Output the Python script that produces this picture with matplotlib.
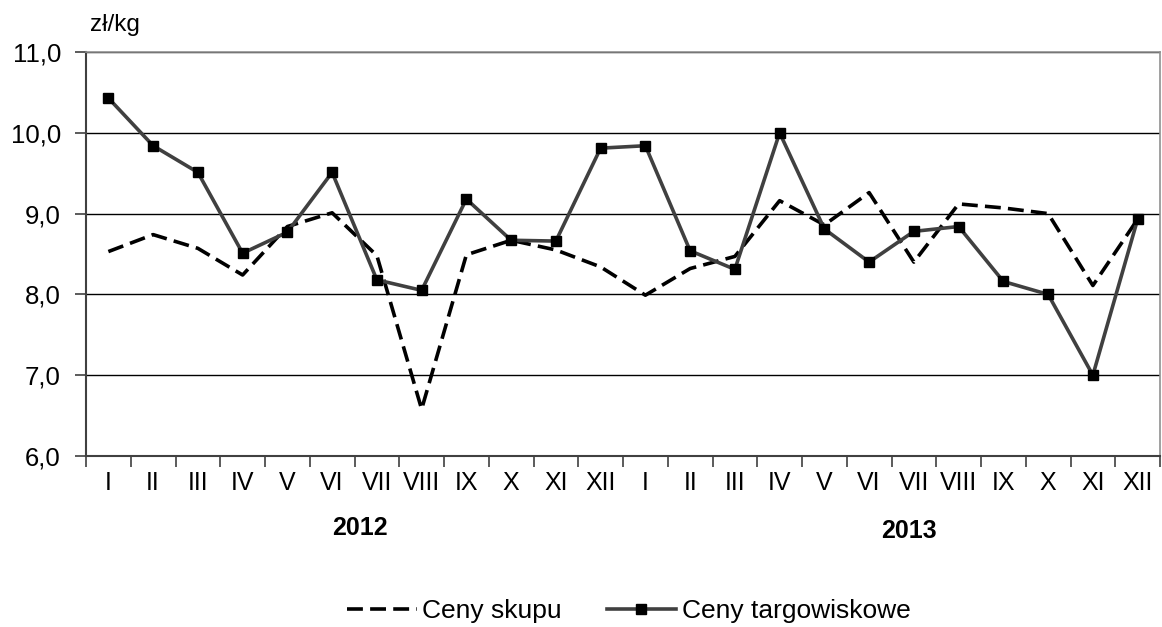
import matplotlib.pyplot as plt
import numpy as np

plt.rcParams['font.family'] = ['Liberation Sans', 'DejaVu Sans']

# miesiace (dwa lata)
months = ['I', 'II', 'III', 'IV', 'V', 'VI', 'VII', 'VIII', 'IX', 'X', 'XI', 'XII'] * 2
years = ['2012', '2013']

# ceny w zl/kg
ceny_skupu = [8.53, 8.74, 8.57, 8.24, 8.84, 9.01, 8.48, 6.58, 8.49, 8.67, 8.55, 8.34,
              7.99, 8.32, 8.47, 9.16, 8.86, 9.26, 8.40, 9.12, 9.07, 9.00, 8.11, 8.93]
ceny_targ = [10.43, 9.84, 9.51, 8.51, 8.77, 9.51, 8.18, 8.05, 9.18, 8.67, 8.66, 9.81,
             9.84, 8.54, 8.31, 10.00, 8.81, 8.40, 8.78, 8.84, 8.16, 8.00, 7.00, 8.93]

yticks = [6.0, 7.0, 8.0, 9.0, 10.0, 11.0]

fig = plt.figure(figsize=(11.62, 6.27), dpi=100)
ax = fig.add_axes([86 / 1162, 1 - 456 / 627, 1074 / 1162, 404 / 627])

x = np.arange(len(months))
ax.plot(x, ceny_skupu, color='black', lw=2.6, dashes=(4.4, 2.0),
        label='Ceny skupu', zorder=3)
ax.plot(x, ceny_targ, color='#404040', lw=2.6, marker='s', markersize=6.8,
        markerfacecolor='black', markeredgecolor='black',
        label='Ceny targowiskowe', zorder=4)

ax.set_xlim(-0.5, len(months) - 0.5)
ax.set_ylim(6.0, 11.0)

# siatka pozioma
ax.set_yticks(yticks)
ax.set_yticklabels([f'{v:.1f}'.replace('.', ',') for v in yticks], fontsize=18.5)
ax.yaxis.grid(True, color='black', lw=1.0)
ax.set_axisbelow(True)

# etykiety miesiecy, kreski miedzy kategoriami
ax.set_xticks(x)
ax.set_xticklabels(months, fontsize=18)
ax.tick_params(axis='x', length=0, pad=11)
ax.set_xticks(np.arange(-0.5, len(months)), minor=True)
ax.tick_params(axis='x', which='minor', length=8, width=1.2, color='#404040', direction='out')
ax.tick_params(axis='y', length=8, width=1.2, color='#404040', pad=10)

for s in ['top', 'right']:
    ax.spines[s].set_color('#909090')
    ax.spines[s].set_linewidth(1.2)
for s in ['left', 'bottom']:
    ax.spines[s].set_color('#404040')
    ax.spines[s].set_linewidth(1.5)

ax.text(5.62, 5.11, years[0], fontsize=18, fontweight='bold', ha='center', va='center')
ax.text(17.9, 5.07, years[1], fontsize=18, fontweight='bold', ha='center', va='center')

fig.text(90 / 1162, 1 - 25 / 627, 'zł/kg', fontsize=17.5, ha='left', va='center')

fig.legend(loc='center', bbox_to_anchor=(0.541, 1 - 611 / 627), ncol=2, frameon=False,
           fontsize=19, handlelength=2.65, handletextpad=0.2, columnspacing=1.7)

fig.savefig('out.png', dpi=100)
